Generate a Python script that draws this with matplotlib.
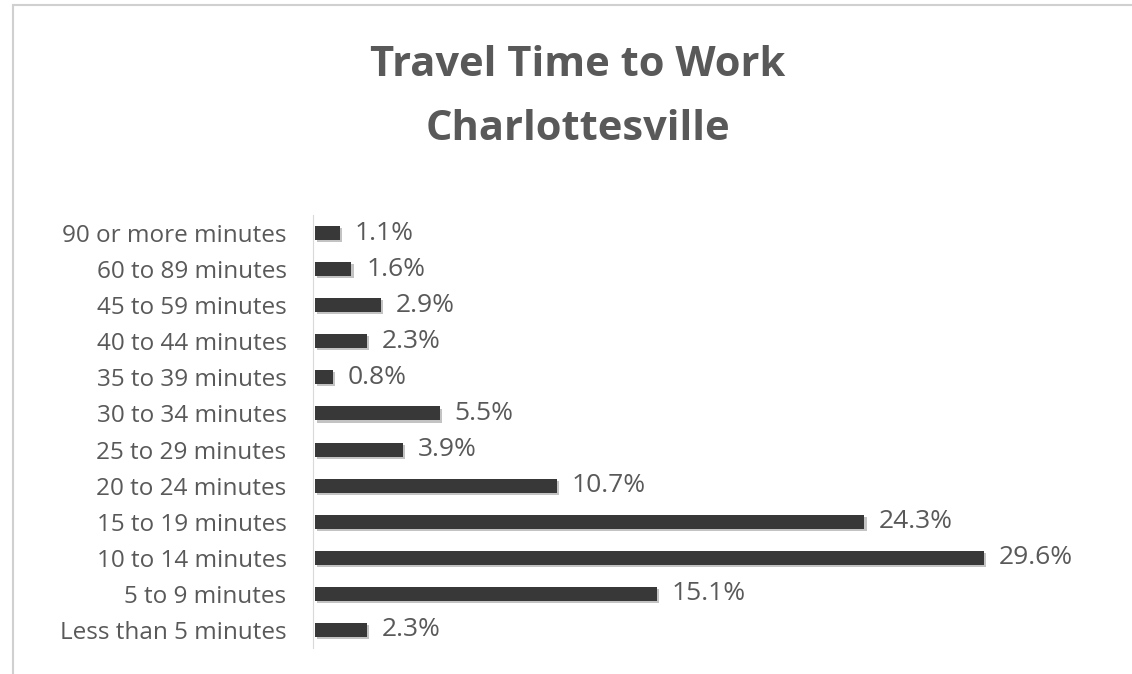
import matplotlib.pyplot as plt
import matplotlib.patheffects as pe
from matplotlib.patches import Rectangle

categories = ['Less than 5 minutes', '5 to 9 minutes', '10 to 14 minutes', '15 to 19 minutes',
              '20 to 24 minutes', '25 to 29 minutes', '30 to 34 minutes', '35 to 39 minutes',
              '40 to 44 minutes', '45 to 59 minutes', '60 to 89 minutes', '90 or more minutes']
values = [2.3, 15.1, 29.6, 24.3, 10.7, 3.9, 5.5, 0.8, 2.3, 2.9, 1.6, 1.1]

plt.rcParams['font.family'] = ['Open Sans', 'DejaVu Sans']
gray = '#595959'

fig = plt.figure(figsize=(11.32, 6.74), dpi=100)
W, H = 1132, 674

# outer chart border (light gray, runs off right and bottom)
fig.patches.append(Rectangle((13 / W, -0.01), 1.1, 1 - 5 / H + 0.01, transform=fig.transFigure,
                             fill=False, edgecolor='#d0d0d0', lw=1.5))

ax = fig.add_axes([313 / W, 1 - 648 / H, 791 / W, 433 / H])
y = range(len(categories))
bars = ax.barh(y, values, height=0.39, color='#383838', left=0.1)
for b in bars:
    b.set_path_effects([pe.SimplePatchShadow(offset=(1.5, -1.5), shadow_rgbFace='#888888', alpha=0.5),
                        pe.Normal()])
for i, v in enumerate(values):
    ax.text(v + 0.75, i, f'{v}%', va='center', ha='left', fontsize=19, color=gray)

ax.set_xlim(0, 35)
ax.set_ylim(-0.5, len(categories) - 0.5)
ax.set_yticks(list(y))
ax.set_yticklabels(categories, fontsize=17.5, color=gray)
ax.tick_params(axis='y', length=0, pad=19)
ax.set_xticks([])
for s in ['top', 'right', 'bottom']:
    ax.spines[s].set_visible(False)
ax.spines['left'].set_color('#d9d9d9')

fig.text(578 / W, 1 - 65 / H, 'Travel Time to Work', ha='center', va='center',
         fontsize=30, fontweight='bold', color=gray)
fig.text(578 / W, 1 - 130 / H, 'Charlottesville', ha='center', va='center',
         fontsize=30, fontweight='bold', color=gray)

fig.savefig('out.png', dpi=100)
